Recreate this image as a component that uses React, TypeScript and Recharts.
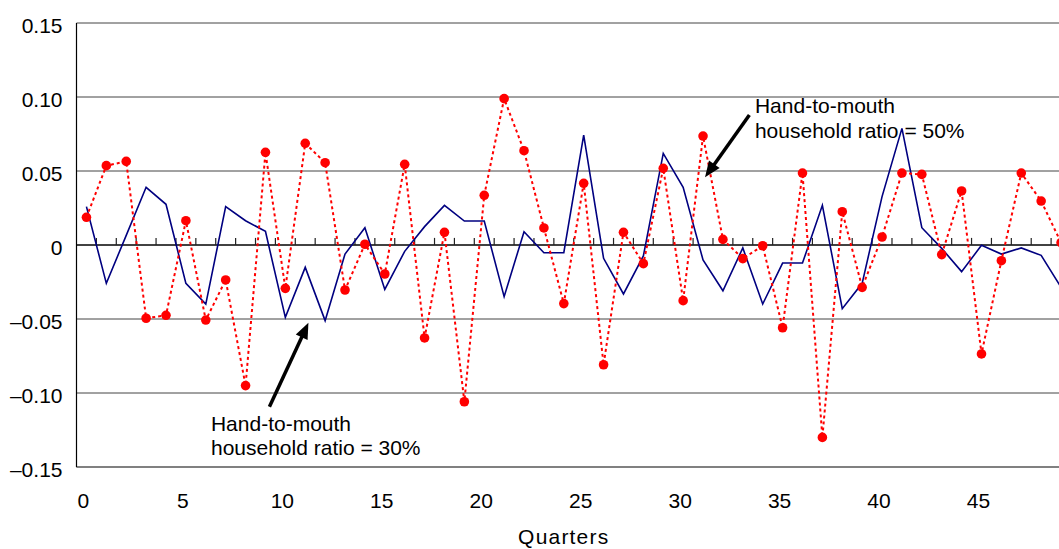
import React from 'react';
import { LineChart, Line, XAxis, YAxis, CartesianGrid, ReferenceLine, ReferenceDot } from 'recharts';

const quarters = [0, 1, 2, 3, 4, 5, 6, 7, 8, 9, 10, 11, 12, 13, 14, 15, 16, 17, 18, 19, 20, 21, 22, 23, 24, 25, 26, 27, 28, 29, 30, 31, 32, 33, 34, 35, 36, 37, 38, 39, 40, 41, 42, 43, 44, 45, 46, 47, 48, 49];

// Hand-to-mouth household ratio = 30% (solid navy line)
const ratio30 = [0.0259, -0.0259, 0.0065, 0.039, 0.0275, -0.0259, -0.0399, 0.0259, 0.0164, 0.0092, -0.0489, -0.0151, -0.0511, -0.0061, 0.0117, -0.03, -0.0043, 0.0124, 0.0268, 0.0162, 0.0162, -0.0349, 0.009, -0.0052, -0.0052, 0.0743, -0.009, -0.0331, -0.0074, 0.0619, 0.039, -0.0101, -0.0309, -0.002, -0.0399, -0.0122, -0.0122, 0.0268, -0.043, -0.0259, 0.0327, 0.0788, 0.0117, -0.0023, -0.018, -0.0002, -0.0061, -0.002, -0.007, -0.0286];

// Hand-to-mouth household ratio = 50% (red dotted line with markers)
const ratio50 = [0.0187, 0.0536, 0.0565, -0.0495, -0.0475, 0.0164, -0.0507, -0.0236, -0.095, 0.0626, -0.0293, 0.0687, 0.0556, -0.0304, 0.0005, -0.0196, 0.0545, -0.0628, 0.0086, -0.1059, 0.0336, 0.0989, 0.0637, 0.0115, -0.0396, 0.0417, -0.0809, 0.0086, -0.0126, 0.0518, -0.0376, 0.0736, 0.0038, -0.0092, -0.0005, -0.0559, 0.0486, -0.13, 0.0225, -0.0286, 0.0054, 0.0486, 0.0477, -0.0065, 0.0365, -0.0736, -0.0106, 0.0486, 0.0297, 0.0016];

const xTicks = [0, 5, 10, 15, 20, 25, 30, 35, 40, 45];
const yTicks = [-0.15, -0.1, -0.05, 0, 0.05, 0.1, 0.15];
const yTickLabels = ['\u20130.15', '\u20130.10', '\u20130.05', '0', '0.05', '0.10', '0.15'];
const xTitle = 'Quarters';
const note30 = ['Hand-to-mouth', 'household ratio = 30%'];
const note50 = ['Hand-to-mouth', 'household ratio = 50%'];

const data = quarters.map((q, i) => ({ q, r30: ratio30[i], r50: ratio50[i] }));
const boundaries = quarters.map((q) => q + 0.5);

const FONT = '"Liberation Sans", Arial, Helvetica, sans-serif';

function Arrow(props: any) {
  const { x1, y1, x2, y2 } = props;
  const dx = x2 - x1;
  const dy = y2 - y1;
  const len = Math.hypot(dx, dy) || 1;
  const ux = dx / len;
  const uy = dy / len;
  const hl = 16;
  const hw = 6.5;
  const bx = x2 - ux * hl;
  const by = y2 - uy * hl;
  const pts = `${x2},${y2} ${bx - uy * hw},${by + ux * hw} ${bx + uy * hw},${by - ux * hw}`;
  return (
    <g>
      <line x1={x1} y1={y1} x2={bx + ux * 2} y2={by + uy * 2} stroke="#000" strokeWidth={3.5} />
      <polygon points={pts} fill="#000" />
    </g>
  );
}

const makeNote = (lines: string[]) => (props: any) => {
  const vb = props.viewBox || {};
  const x = vb.x ?? 0;
  const y = vb.y ?? 0;
  return (
    <text x={x} y={y} fontSize={21} fontFamily={FONT} fill="#000">
      {lines.map((l, i) => (
        <tspan key={i} x={x} dy={i === 0 ? 0 : 24.5}>
          {l}
        </tspan>
      ))}
    </text>
  );
};

const QuartersLabel = (props: any) => {
  const vb = props.viewBox || {};
  return (
    <text
      x={vb.x + vb.width / 2 - 10}
      y={vb.y + vb.height - 5}
      textAnchor="middle"
      fontSize={21}
      letterSpacing={1.2}
      fontFamily={FONT}
      fill="#000"
    >
      {xTitle}
    </text>
  );
};

export default function App() {
  return (
    <div
      style={{
        position: 'absolute',
        left: 0,
        top: 0,
        width: 1059,
        height: 549,
        overflow: 'hidden',
        background: '#fff',
        fontFamily: FONT,
      }}
    >
      <LineChart width={1071} height={549} data={data} margin={{ top: 23, right: 0, bottom: 0, left: 0 }}>
        <CartesianGrid vertical={false} stroke="#444" strokeWidth={1} />
        <XAxis
          dataKey="q"
          type="number"
          domain={[-0.5, 49.5]}
          ticks={xTicks}
          interval={0}
          tickSize={0}
          tickMargin={26}
          height={82}
          axisLine={{ stroke: '#808080', strokeWidth: 2 }}
          tickLine={false}
          tick={{ fontSize: 21, fill: '#000', fontFamily: FONT, dx: -3 }}
          label={{ content: QuartersLabel }}
          allowDataOverflow
        />
        <YAxis
          type="number"
          domain={[-0.15, 0.15]}
          ticks={yTicks}
          interval={0}
          width={76.5}
          tickSize={0}
          tickMargin={14}
          axisLine={{ stroke: '#000', strokeWidth: 1.2 }}
          tickLine={false}
          tickFormatter={(v: number) => yTickLabels[yTicks.findIndex((t) => Math.abs(t - v) < 1e-9)]}
          tick={{ fontSize: 21, fill: '#000', fontFamily: FONT, dy: 3 }}
          allowDataOverflow
        />
        <ReferenceLine y={0} stroke="#222" strokeWidth={1.5} />
        {boundaries.map((b) => (
          <ReferenceLine
            key={`t${b}`}
            segment={[
              { x: b, y: 0 },
              { x: b, y: 0.0048 },
            ]}
            stroke="#222"
            strokeWidth={1.2}
          />
        ))}
        <Line
          type="linear"
          dataKey="r30"
          stroke="#000080"
          strokeWidth={1.6}
          dot={false}
          isAnimationActive={false}
        />
        <Line
          type="linear"
          dataKey="r50"
          stroke="#ff0000"
          strokeWidth={2}
          strokeDasharray="3 3"
          dot={{ r: 4.8, fill: '#ff0000', stroke: 'none', strokeDasharray: '' }}
          isAnimationActive={false}
        />
        <ReferenceLine
          segment={[
            { x: 9.2, y: -0.1093 },
            { x: 11.16, y: -0.0525 },
          ]}
          shape={Arrow}
          ifOverflow="visible"
        />
        <ReferenceLine
          segment={[
            { x: 33.33, y: 0.0878 },
            { x: 31.1, y: 0.0457 },
          ]}
          shape={Arrow}
          ifOverflow="visible"
        />
        <ReferenceDot x={6.26} y={-0.1255} r={0} fill="none" stroke="none" ifOverflow="visible" label={makeNote(note30)} />
        <ReferenceDot x={33.61} y={0.089} r={0} fill="none" stroke="none" ifOverflow="visible" label={makeNote(note50)} />
      </LineChart>
    </div>
  );
}
